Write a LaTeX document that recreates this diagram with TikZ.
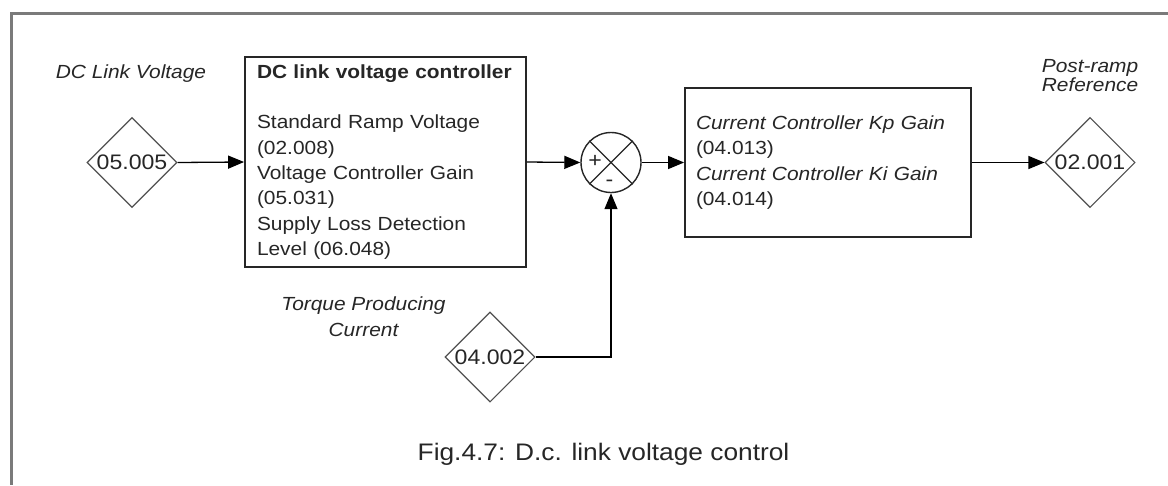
\documentclass[tikz,border=0pt]{standalone}
\usepackage{fontspec}
\setmainfont{Liberation Sans}[FakeStretch=1.1]
\usepackage{tikz}
\usetikzlibrary{shapes.geometric,arrows.meta}
\definecolor{framegray}{RGB}{122,122,122}
\definecolor{ink}{RGB}{38,38,38}
\definecolor{edgegray}{RGB}{80,80,80}
\newcommand{\bodyfont}{\fontsize{19}{25.3}\selectfont}
\newcommand{\drawflow}{\draw[flow]}
\tikzset{
  param/.style={diamond, aspect=1, draw=edgegray, line width=1.1pt, minimum width=90pt, minimum height=90pt, inner sep=0pt, text=ink, font=\fontsize{21}{21}\selectfont},
  ctrlbox/.style={draw=ink, line width=1.8pt, align=left, text=ink, font=\bodyfont},
  sumpoint/.style={circle, draw=ink, line width=1.4pt, minimum size=60pt, inner sep=0pt},
  sign/.style={text=ink, inner sep=0pt, font=\fontsize{21}{21}\selectfont},
  flow/.style={black, line width=1.3pt, -{Triangle[length=16pt,width=13pt]}},
  lbl/.style={text=ink, align=center, font=\bodyfont\itshape},
}
\begin{document}
\begin{tikzpicture}[x=1pt,y=-1pt]
\useasboundingbox (0,0) rectangle (1168,485);
\draw[framegray, line width=3pt] (1168,13)--(11,13)--(11,485);
% inputs and output
\node[param] (dclink) at (132,162.5) {05.005};
\node[param] (postramp) at (1090,162.5) {02.001};
\node[param] (torque) at (490,357) {04.002};
\node[lbl, anchor=base] (dclinklbl) at (131,78) {DC Link Voltage};
\node[lbl, font=\fontsize{19}{17}\selectfont\itshape] (postramplbl) at (1090,75.7) {Post-ramp\\Reference};
\node[lbl] (torquelbl) at (363.5,316.7) {Torque Producing\\Current};
% controller blocks
\node[ctrlbox, minimum width=281pt, minimum height=210pt, text width=257pt, inner xsep=12pt] (vctrl) at (385.5,162) {\textbf{DC link voltage controller}\\[25.3pt]Standard Ramp Voltage\\(02.008)\\Voltage Controller Gain\\(05.031)\\Supply Loss Detection\\Level (06.048)};
\node[ctrlbox, minimum width=286pt, minimum height=149pt, text width=264pt, inner xsep=11pt] (ictrl) at (828,162.5) {\textit{Current Controller Kp Gain}\\(04.013)\\\textit{Current Controller Ki Gain}\\(04.014)};
\node[sumpoint] (sum) at (611,162.5) {};
\draw[ink, line width=1.2pt] (sum.north west)--(sum.south east) (sum.north east)--(sum.south west);
\node[sign] (plus) at (595,161) {+};
\node[sign] (minus) at (609.5,183) {-};
% signal flow
\drawflow (dclink.east)--(vctrl.west);
\drawflow (vctrl.east)--(sum.west);
\drawflow (sum.east)--(ictrl.west);
\drawflow (ictrl.east)--(postramp.west);
\drawflow (torque.east)-|(sum.south);
\node[text=ink, font=\fontsize{23.9}{24}\selectfont, anchor=base] (caption) at (603.5,460) {Fig.4.7: D.c. link voltage control};
\end{tikzpicture}
\end{document}
